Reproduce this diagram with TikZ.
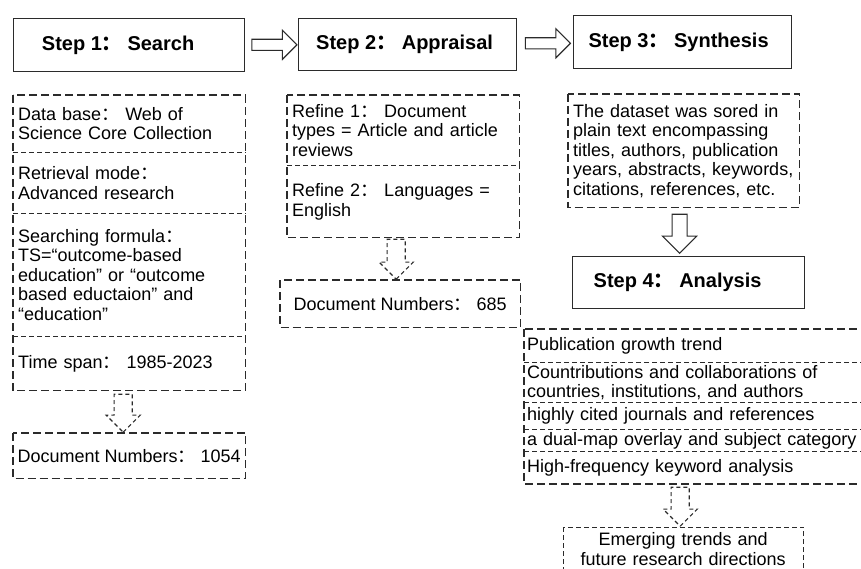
\documentclass[tikz,border=0pt]{standalone}
\usepackage{fontspec}
\setmainfont{Liberation Sans}
\newfontfamily\cjk{Noto Sans CJK SC}
\usetikzlibrary{shapes.arrows,calc}
\definecolor{inkgray}{HTML}{2B2B2B}
\newcommand\fc{{\cjk ：}\ }

\begin{document}
\begin{tikzpicture}[x=1pt,y=-1pt,font=\fontsize{18}{19.5}\selectfont,
 stepbox/.style={draw=inkgray,line width=1.2pt,anchor=north west,font=\bfseries\fontsize{20}{24}\selectfont},
 cell/.style={anchor=north west,inner xsep=5pt,inner ysep=0pt,align=left},
 frame/.style={draw=inkgray,line width=1.1pt,dash pattern=on 8pt off 4pt},
 divider/.style={draw=inkgray,line width=0.9pt,dash pattern=on 5pt off 3pt},
 blockarrow/.style={single arrow,draw=inkgray,line width=1.1pt,inner sep=5pt,minimum width=28pt,single arrow head extend=9pt},
 dasharrow/.style={blockarrow,dash pattern=on 4pt off 3pt,shape border rotate=270,inner sep=8.5pt,minimum width=33pt,single arrow head extend=8pt}]
\useasboundingbox (0,0) rectangle (861,569);
\node[stepbox,minimum width=231pt,minimum height=53pt] (step1) at (13,18) {\hspace*{-22pt}Step 1\fc Search};
\node[stepbox,minimum width=218pt,minimum height=52pt] (step2) at (298,18) {\hspace*{-6pt}Step 2\fc Appraisal};
\node[stepbox,minimum width=218pt,minimum height=53pt] (step3) at (573,15) {\hspace*{-8pt}Step 3\fc Synthesis};
\node[stepbox,minimum width=232pt,minimum height=52pt] (step4) at (572,256) {\hspace*{-22pt}Step 4\fc Analysis};
\node[blockarrow,minimum height=45pt] (go12) at ($(step1.east)!0.5!(step2.west)$) {};
\node[blockarrow,minimum height=45pt,minimum width=27pt] (go23) at ($(step2.east)!0.5!(step3.west)$) {};

\node[cell,text width=222pt,minimum height=57pt] (base) at (13,95) {Data base\fc Web of\\Science Core Collection};
\node[cell,text width=222pt,minimum height=61pt] (mode) at (base.south west) {Retrieval mode\fc\\Advanced research};
\node[cell,text width=222pt,minimum height=122pt] (formula) at (mode.south west) {Searching formula\fc\\TS=“outcome-based\\education” or “outcome\\based eductaion” and\\“education”};
\node[cell,text width=222pt,minimum height=54pt] (span) at (formula.south west) {Time span\fc 1985-2023};
\draw[frame] (base.north west) rectangle (span.south east);
\draw[divider] (base.south west) -- (base.south east);
\draw[divider] (mode.south west) -- (mode.south east);
\draw[divider] (formula.south west) -- (formula.south east);
\node[cell,inner xsep=0pt,minimum width=232pt,minimum height=45pt] (count1) at (13,433) {Document Numbers\fc 1054};
\draw[frame] (count1.north west) rectangle (count1.south east);
\node[dasharrow,minimum height=38pt,anchor=tip] (down1) at ([xshift=-6pt]count1.north) {};

\node[cell,text width=222pt,minimum height=70pt] (refine1) at (287,95) {Refine 1\fc Document\\types = Article and article\\reviews};
\node[cell,text width=222pt,minimum height=72pt] (refine2) at (refine1.south west) {Refine 2\fc Languages =\\English};
\draw[frame] (refine1.north west) rectangle (refine2.south east);
\draw[divider] (refine1.south west) -- (refine1.south east);
\node[cell,inner xsep=0pt,minimum width=240pt,minimum height=47pt] (count2) at (280,280) {Document Numbers\fc 685};
\draw[frame] (count2.north west) rectangle (count2.south east);
\node[dasharrow,minimum height=40pt,anchor=tip] (down2) at ([xshift=-4pt]count2.north) {};

\node[cell,text width=221pt,minimum height=113pt] (dataset) at (568,94) {The dataset was sored in\\plain text encompassing\\titles, authors, publication\\years, abstracts, keywords,\\citations, references, etc.};
\draw[frame] (dataset.north west) rectangle (dataset.south east);
\node[blockarrow,shape border rotate=270,minimum height=39pt,inner sep=7pt,minimum width=33pt,single arrow head extend=9.5pt,anchor=tip] (down3) at ([xshift=-9pt,yshift=2pt]step4.north) {};

\node[cell,inner xsep=3pt,text width=335pt,minimum height=33pt] (trend) at (524,329) {Publication growth trend};
\node[cell,inner xsep=3pt,text width=335pt,minimum height=40pt] (collab) at (trend.south west) {Countributions and collaborations of\\countries, institutions, and authors};
\node[cell,inner xsep=3pt,text width=335pt,minimum height=26pt] (cited) at (collab.south west) {highly cited journals and references};
\node[cell,inner xsep=3pt,text width=335pt,minimum height=22pt] (dualmap) at (cited.south west) {a dual-map overlay and subject category};
\node[cell,inner xsep=3pt,text width=335pt,minimum height=32pt] (keyword) at (dualmap.south west) {High-frequency keyword analysis};
\draw[frame] (trend.north west) rectangle (keyword.south east);
\draw[divider] (trend.south west) -- (trend.south east);
\draw[divider] (collab.south west) -- (collab.south east);
\draw[divider] (cited.south west) -- (cited.south east);
\draw[divider] (dualmap.south west) -- (dualmap.south east);
\node[cell,align=center,text width=230pt,minimum height=44pt] (future) at (563,527) {Emerging trends and\\future research directions};
\draw[divider] (future.north west) rectangle (future.south east);
\node[dasharrow,minimum height=39pt,minimum width=34pt,anchor=tip] (down4) at ([xshift=-3pt]future.north) {};
\end{tikzpicture}
\end{document}
